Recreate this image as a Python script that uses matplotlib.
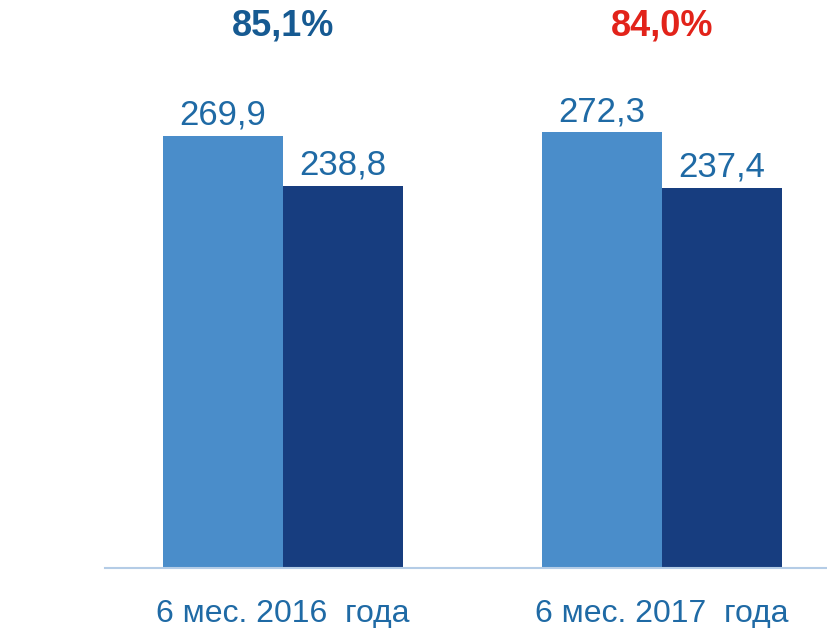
import numpy as np
import matplotlib.pyplot as plt

# values
periods = ["6 мес. 2016  года", "6 мес. 2017  года"]
first_vals = [269.9, 272.3]
second_vals = [238.8, 237.4]
shares = ["85,1%", "84,0%"]
share_colors = ["#165A92", "#E2231A"]

light = "#4A8DCA"
dark = "#173D7F"
label_col = "#1F6AA5"

plt.rcParams["font.family"] = ["Liberation Sans", "DejaVu Sans"]

fig = plt.figure(figsize=(8.28, 6.28), dpi=100)
ax = fig.add_axes([105 / 828, 60 / 628, 723 / 828, 560 / 628])

x = np.arange(len(periods))
w = 0.3166
b1 = ax.bar(x - w / 2, first_vals, w, color=light)
b2 = ax.bar(x + w / 2, second_vals, w, color=dark)

for bars, vals in ((b1, first_vals), (b2, second_vals)):
    for rect, v in zip(bars, vals):
        ax.annotate(
            f"{v:.1f}".replace(".", ","),
            (rect.get_x() + rect.get_width() / 2, v),
            xytext=(0, 3),
            textcoords="offset points",
            ha="center",
            va="bottom",
            fontsize=25,
            color=label_col,
        )

for xi, s, c in zip(x, shares, share_colors):
    ax.text(xi, 339, s, ha="center", va="center", fontsize=26,
            fontweight="bold", color=c)

ax.set_xlim(-0.4697, 1.438)
ax.set_ylim(0, 350)
ax.set_yticks([])
ax.set_xticks(x)
ax.set_xticklabels(periods, fontsize=23, color=label_col)
ax.tick_params(axis="x", length=0, pad=22)
for side in ("top", "right", "left"):
    ax.spines[side].set_visible(False)
ax.spines["bottom"].set_color("#B4CCE6")
ax.spines["bottom"].set_linewidth(1.5)

fig.savefig("out.png", dpi=100)
